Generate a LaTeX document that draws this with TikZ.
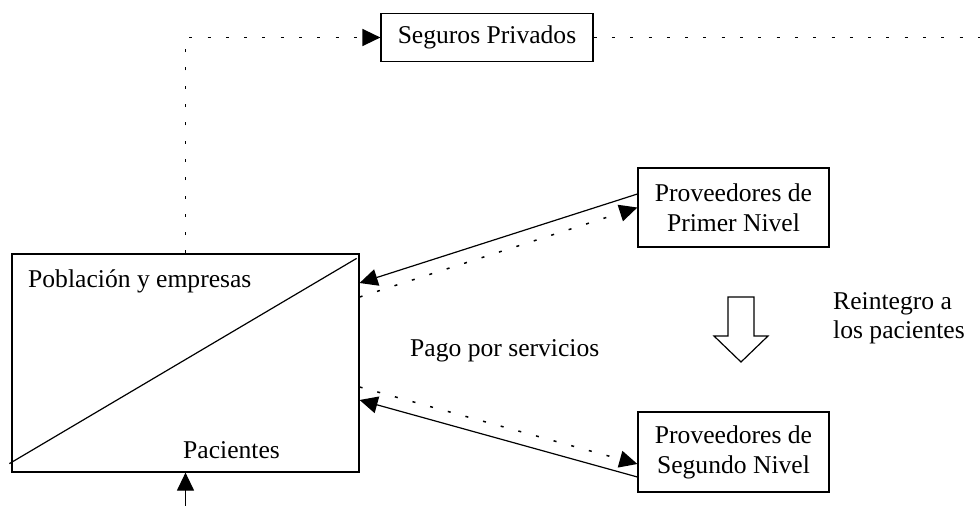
\documentclass[tikz,border=0pt]{standalone}
\usepackage{fontspec}
\setmainfont{Liberation Serif}
\usetikzlibrary{arrows.meta}
\begin{document}
\begin{tikzpicture}[x=1pt,y=-1pt,
  txt/.style={font=\fontsize{25.6}{30}\selectfont, inner sep=0pt},
  boxn/.style={draw, line width=1.2pt, inner sep=0pt, align=center, font=\fontsize{25.6}{30}\selectfont},
  dotline/.style={line width=1.5pt, dash pattern=on 3pt off 15.3pt},
  tipend/.style={-{Triangle[length=18pt,width=17pt]}},
  conn/.style={line width=1.2pt}]
\useasboundingbox (0,0) rectangle (980,506);
% boxes
\node[boxn, minimum width=347pt, minimum height=218pt] (main) at (185.5,363) {};
\node[boxn, minimum width=212pt, minimum height=48pt] (seg) at (487,37.5) {Seguros Privados};
\node[boxn, minimum width=191pt, minimum height=79pt] (prim) at (733.5,207.5) {Proveedores de\\Primer Nivel};
\node[boxn, minimum width=191pt, minimum height=80pt] (segn) at (733.5,452) {Proveedores de\\Segundo Nivel};
% labels
\node[txt, anchor=base west] (pob) at (28,287) {Población y empresas};
\node[txt, anchor=base west] (pac) at (183,458) {Pacientes};
\node[txt, anchor=base west] (pago) at (410,356) {Pago por servicios};
\node[txt, anchor=base west] (rein1) at (833,309) {Reintegro a};
\node[txt, anchor=base west] (rein2) at (833,338) {los pacientes};
% diagonal
\draw[conn] ([shift={(-2pt,9pt)}]main.south west) -- ([shift={(-3pt,-5pt)}]main.north east);
% free ends
\coordinate (rightend) at (980,37.5);
\coordinate (bottomend) at (185.5,506);
% dotted to seguros
\draw[dotline, tipend] (main.north) |- (seg.west);
\draw[dotline] (seg.east) -- (rightend);
% bottom arrow
\draw[conn, tipend] (bottomend) -- (main.south);
% primer nivel
\draw[conn, tipend] ([yshift=13.5pt]prim.west) -- ([yshift=80pt]main.east);
\draw[dotline, tipend] ([yshift=66pt]main.east) -- (prim.west);
% segundo nivel
\draw[conn, tipend] ([yshift=-25pt]segn.west) -- ([yshift=-37pt]main.east);
\draw[dotline, tipend] ([yshift=-24pt]main.east) -- ([yshift=-12pt]segn.west);
% hollow arrow
\draw[line width=1.2pt] (728,297) -- (754,297) -- (754,336) -- (768,336) -- (741,362) -- (714,336) -- (728,336) -- cycle;
\end{tikzpicture}
\end{document}
